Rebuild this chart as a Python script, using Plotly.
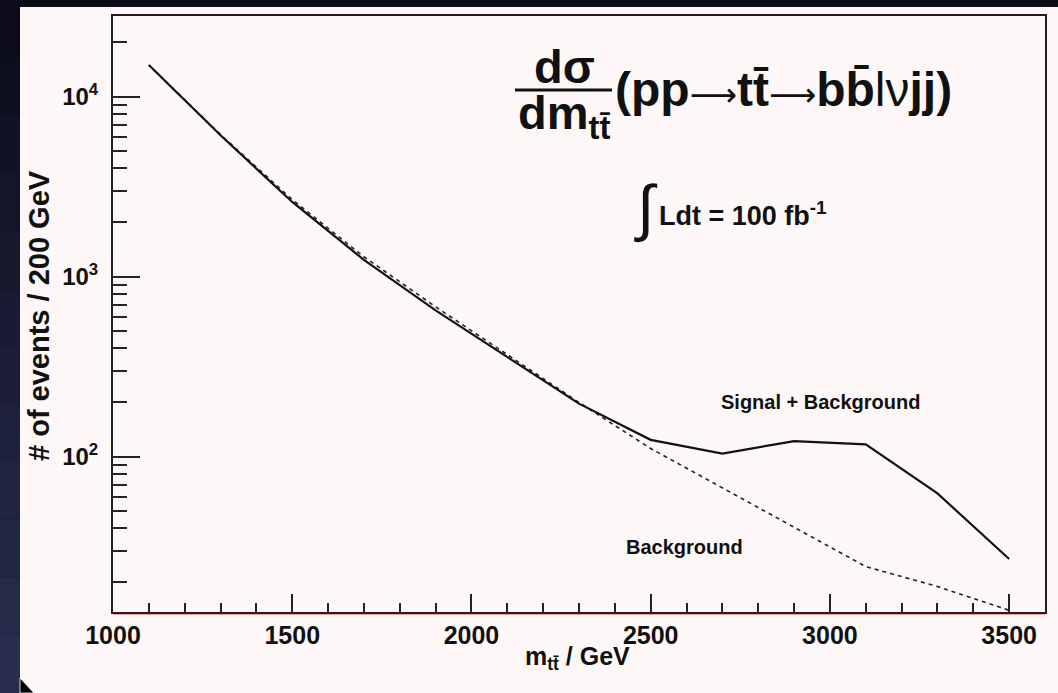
import plotly.graph_objects as go

# ---------------- data ----------------
mtt = [1100, 1300, 1500, 1700, 1900, 2100, 2300, 2500, 2700, 2900, 3100, 3300, 3500]
signal_plus_bkg = [15000, 6100, 2600, 1240, 650, 358, 197, 124, 104, 122, 117, 62.5, 27]
background = [15000, 6150, 2680, 1290, 680, 370, 200, 111, 67, 40.5, 24.5, 19, 14]

x_tick_vals = [1000, 1500, 2000, 2500, 3000, 3500]
x_tick_text = ["1000", "1500", "2000", "2500", "3000", "3500"]
y_tick_vals = [100, 1000, 10000]
y_tick_text = ["10<sup>2</sup>", "10<sup>3</sup>", "10<sup>4</sup>"]

# ---------------- geometry helpers ----------------
W, H = 1058, 693
L, R, T, B = 113, 1045, 16, 612
pw, ph = R - L, B - T


def px(x):
    return (x - L) / pw


def py(y):
    return (B - y) / ph


FONT = "Liberation Sans, Arial, Helvetica, sans-serif"
INK = "#111111"
ARROW = "<span style='font-family:DejaVu Sans;font-weight:normal;font-size:33px'>\u27f6</span>"
BAR = "\u0304"

fig = go.Figure()

fig.add_trace(go.Scatter(
    x=mtt, y=background, mode="lines", name="Background",
    line=dict(color="#222222", width=1.6, dash="4px,4px"),
    hoverinfo="skip", showlegend=False))
fig.add_trace(go.Scatter(
    x=mtt, y=signal_plus_bkg, mode="lines", name="Signal + Background",
    line=dict(color="#111111", width=2.2),
    hoverinfo="skip", showlegend=False))

shapes = []
# dark slide background band (gradient on the left)
steps = 12
for i in range(steps):
    y0 = H * i / steps
    y1 = H * (i + 1) / steps
    t = i / (steps - 1)
    r = int(12 + t * (40 - 12))
    g = int(12 + t * (46 - 12))
    b = int(26 + t * (78 - 26))
    shapes.append(dict(type="rect", xref="paper", yref="paper",
                       x0=px(0), x1=px(20), y0=py(y0), y1=py(y1),
                       fillcolor=f"rgb({r},{g},{b})", line=dict(width=0), layer="below"))
# white chart panel
shapes.append(dict(type="rect", xref="paper", yref="paper",
                   x0=px(20), x1=px(W), y0=py(H), y1=py(7),
                   fillcolor="#fdf8f7", line=dict(width=0), layer="below"))
# pinkish halo under the x axis
shapes.append(dict(type="line", xref="paper", yref="paper",
                   x0=0, x1=1, y0=py(B + 2), y1=py(B + 2),
                   line=dict(color="#f2a4a4", width=2), layer="below"))
# fraction bar of the title
shapes.append(dict(type="line", xref="paper", yref="paper",
                   x0=px(515), x1=px(612), y0=py(90), y1=py(90),
                   line=dict(color=INK, width=3)))
# mouse pointer in the bottom-left corner
shapes.append(dict(type="path", xref="paper", yref="paper",
                   path=f"M {px(20)} {py(678)} L {px(20)} {py(693)} L {px(34)} {py(693)} Z",
                   fillcolor="#000000", line=dict(color="#ffffff", width=0.8)))

annotations = [
    # y-axis title
    dict(text="<b># of events / 200 GeV</b>", x=px(39), y=py(316), xref="paper", yref="paper",
         textangle=-90, showarrow=False, font=dict(family=FONT, size=29, color=INK),
         xanchor="center", yanchor="middle"),
    # x-axis title
    dict(text="<b>m<sub>tt" + BAR + "</sub> / GeV</b>", x=px(577), y=py(658), xref="paper", yref="paper",
         showarrow=False, font=dict(family=FONT, size=25, color=INK),
         xanchor="center", yanchor="middle"),
    # title formula
    dict(text="<b>d\u03c3</b>", x=px(564), y=py(66), xref="paper", yref="paper",
         showarrow=False, font=dict(family=FONT, size=47, color=INK),
         xanchor="center", yanchor="middle"),
    dict(text="<b>dm<sub>tt" + BAR + "</sub></b>", x=px(564), y=py(116), xref="paper", yref="paper",
         showarrow=False, font=dict(family=FONT, size=47, color=INK),
         xanchor="center", yanchor="middle"),
    dict(text="<b>(pp</b>" + ARROW + "<b>tt" + BAR + "</b>" + ARROW + "<b>bb" + BAR + "</b>l\u03bd<b>jj)</b>",
         x=px(613), y=py(90), xref="paper", yref="paper",
         showarrow=False, font=dict(family=FONT, size=48, color=INK),
         xanchor="left", yanchor="middle"),
    dict(text="\u222b", x=px(646), y=py(208), xref="paper", yref="paper",
         showarrow=False, font=dict(family=FONT, size=62, color=INK),
         xanchor="center", yanchor="middle"),
    dict(text="<b>Ldt = 100 fb<sup>-1</sup></b>", x=px(657), y=py(214), xref="paper", yref="paper",
         showarrow=False, font=dict(family=FONT, size=27, color=INK),
         xanchor="left", yanchor="middle"),
    # curve labels
    dict(text="<b>Signal + Background</b>", x=px(820), y=py(402), xref="paper", yref="paper",
         showarrow=False, font=dict(family=FONT, size=20, color=INK),
         xanchor="center", yanchor="middle"),
    dict(text="<b>Background</b>", x=px(684), y=py(547), xref="paper", yref="paper",
         showarrow=False, font=dict(family=FONT, size=20, color=INK),
         xanchor="center", yanchor="middle"),
]

fig.update_layout(
    width=W, height=H,
    margin=dict(l=L, r=W - R, t=T, b=H - B, pad=0),
    paper_bgcolor="#0b0b17",
    plot_bgcolor="#fdf8f7",
    shapes=shapes,
    annotations=annotations,
    showlegend=False,
)

fig.update_xaxes(
    range=[1000, 3600], showgrid=False, zeroline=False,
    showline=True, linecolor="#2a1c1c", linewidth=2, mirror=True,
    ticks="inside", ticklen=18, tickwidth=1.5, tickcolor="#222222",
    tickvals=x_tick_vals, ticktext=x_tick_text,
    tickfont=dict(family=FONT, size=25, color=INK, weight="bold"),
    minor=dict(ticks="inside", ticklen=9, tickwidth=1.5, tickcolor="#222222", dtick=100,
               showgrid=False),
)
fig.update_yaxes(
    type="log", range=[1.137, 4.448], showgrid=False, zeroline=False,
    showline=True, linecolor="#2a1c1c", linewidth=2, mirror=True,
    ticks="inside", ticklen=27, tickwidth=1.5, tickcolor="#222222",
    tickvals=y_tick_vals, ticktext=y_tick_text, ticklabelstandoff=8,
    tickfont=dict(family=FONT, size=24, color=INK, weight="bold"),
    minor=dict(ticks="inside", ticklen=14, tickwidth=1.5, tickcolor="#222222", dtick="D1",
               showgrid=False),
)

fig.write_html(
    "out.html",
    config={"displayModeBar": False},
    post_script="document.body.style.margin='0';document.body.style.background='#0b0b17';",
)
